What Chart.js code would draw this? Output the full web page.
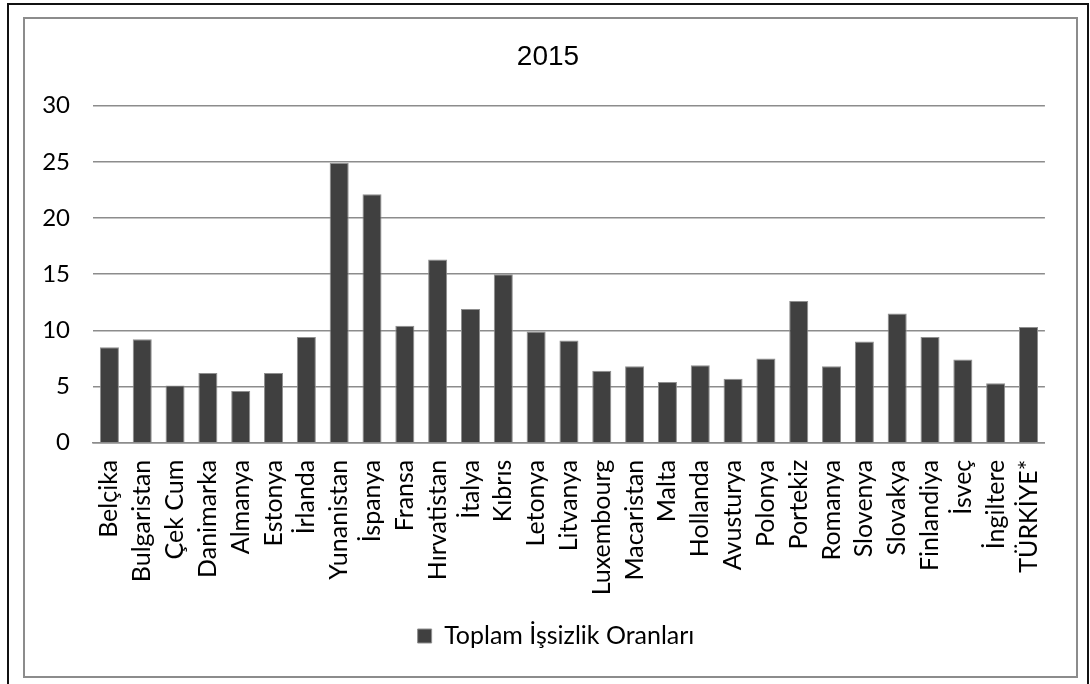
<!DOCTYPE html>
<html>
<head>
<meta charset="utf-8">
<script src="https://cdn.jsdelivr.net/npm/chart.js@4"></script>
<style>
  html, body { margin: 0; padding: 0; background: #fff; }
  body { width: 1090px; height: 684px; position: relative; overflow: hidden; }
  .outer { position: absolute; left: 7px; top: 3px; width: 1082px; height: 700px; border: 2px solid #111; box-sizing: border-box; }
  .frame { position: absolute; left: 23px; top: 17px; width: 1055px; height: 661px; border: 2px solid #8c8c8c; box-sizing: border-box; }
  #wrap { position: absolute; left: 25px; top: 19px; width: 1051px; height: 657px; }
</style>
</head>
<body>
<div class="outer"></div>
<div class="frame"></div>
<div id="wrap"><canvas id="chart"></canvas></div>
<script>
// Data
var countries = ['Belçika', 'Bulgaristan', 'Çek Cum', 'Danimarka', 'Almanya', 'Estonya', 'İrlanda',
  'Yunanistan', 'İspanya', 'Fransa', 'Hırvatistan', 'İtalya', 'Kıbrıs', 'Letonya', 'Litvanya',
  'Luxembourg', 'Macaristan', 'Malta', 'Hollanda', 'Avusturya', 'Polonya', 'Portekiz', 'Romanya',
  'Slovenya', 'Slovakya', 'Finlandiya', 'İsveç', 'İngiltere', 'TÜRKİYE*'];
var rates = [8.5, 9.2, 5.1, 6.2, 4.6, 6.2, 9.4,
  24.9, 22.1, 10.4, 16.3, 11.9, 15.0, 9.9, 9.1,
  6.4, 6.8, 5.4, 6.9, 5.7, 7.5, 12.6, 6.8,
  9.0, 11.5, 9.4, 7.4, 5.3, 10.3];
var yTicks = [0, 5, 10, 15, 20, 25, 30];
var seriesName = 'Toplam İşsizlik Oranları';

var labelFont = { family: 'Lato, "Noto Sans", sans-serif', size: 25 };
var yFont = { family: 'Lato, "Noto Sans", sans-serif', size: 24 };

// Excel centres title and legend a bit right of the canvas middle
var nudge = {
  id: 'nudge',
  afterLayout: function(chart) {
    if (chart.titleBlock) { chart.titleBlock.left += 12; chart.titleBlock.right += 12; }
    if (chart.legend) { chart.legend.left += 20; chart.legend.right += 20; }
  }
};

var ctx = document.getElementById('chart').getContext('2d');
var chart = new Chart(ctx, {
  type: 'bar',
  data: {
    labels: countries,
    datasets: [{
      label: seriesName,
      data: rates,
      backgroundColor: '#404040',
      borderColor: '#8f8f8f',
      borderWidth: 1,
      categoryPercentage: 1,
      barPercentage: 0.58
    }]
  },
  options: {
    responsive: true,
    maintainAspectRatio: false,
    animation: false,
    layout: { padding: { top: 0, left: 0, right: 29, bottom: 17.5 } },
    plugins: {
      tooltip: { enabled: false },
      title: {
        display: true,
        text: '2015',
        color: '#000',
        font: { family: '"Liberation Sans", Arial, sans-serif', size: 28, weight: 'normal', lineHeight: 1.2 },
        padding: { top: 21, bottom: 32 }
      },
      legend: {
        position: 'bottom',
        labels: {
          color: '#000',
          font: labelFont,
          boxWidth: 14,
          boxHeight: 14,
          padding: 10
        }
      }
    },
    scales: {
      x: {
        grid: { display: false, drawTicks: false },
        border: { display: true, color: '#8c8c8c', width: 1.5 },
        ticks: {
          color: '#000',
          font: labelFont,
          minRotation: 90,
          maxRotation: 90,
          autoSkip: false,
          padding: 17
        },
        afterFit: function(scale) { scale.height = 170.8; }
      },
      y: {
        min: 0,
        max: 30,
        afterBuildTicks: function(scale) {
          scale.ticks = yTicks.map(function(v) { return { value: v }; });
        },
        grid: { color: '#8c8c8c', lineWidth: 1.5, drawTicks: false },
        border: { display: false },
        ticks: { color: '#000', font: yFont, padding: 23 },
        afterFit: function(scale) { scale.width = 68; }
      }
    }
  },
  plugins: [nudge]
});
</script>
</body>
</html>
